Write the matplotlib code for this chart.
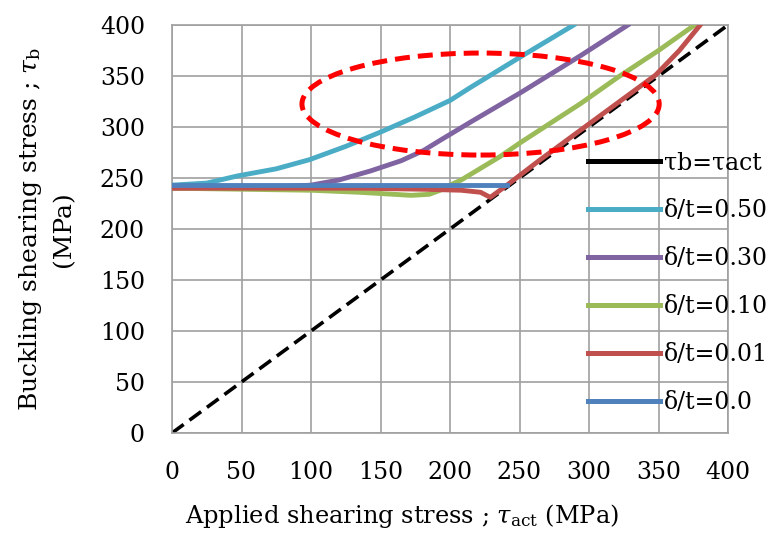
import matplotlib
matplotlib.use("Agg")
import matplotlib.pyplot as plt
from matplotlib.lines import Line2D
from matplotlib.patches import Ellipse

plt.rcParams['font.family'] = ['DejaVu Serif']
plt.rcParams['mathtext.fontset'] = 'dejavuserif'

# diagonal tau_b = tau_act
diag_x = [0, 400]
diag_y = [0, 400]

# delta/t = 0.50
x_050 = [0, 25, 47, 75, 99, 125, 150, 175, 200, 215, 251, 289]
y_050 = [243, 245, 252, 259, 268, 281, 295, 310, 326, 339, 369, 400]

# delta/t = 0.30
x_030 = [0, 60, 100, 120, 143, 165, 181, 193, 215, 250, 294, 328]
y_030 = [240, 240, 243, 248, 257, 267, 277, 287, 305, 333, 370, 400]

# delta/t = 0.10
x_010 = [0, 50, 100, 135, 172, 185, 193, 200, 208, 236, 251, 294, 321, 350, 376]
y_010 = [240, 239, 238, 236, 233, 234, 238, 243, 248, 271, 285, 323, 349, 375, 400]

# delta/t = 0.01
x_001 = [0, 50, 100, 135, 180, 208, 222, 229, 241, 265, 294, 323, 348, 365, 380]
y_001 = [240, 240, 240, 240, 239, 238, 236, 231, 243, 268, 297, 326, 351, 375, 400]

# delta/t = 0.0
x_000 = [0, 241]
y_000 = [243, 243]

labels = ['τb=τact', 'δ/t=0.50', 'δ/t=0.30', 'δ/t=0.10', 'δ/t=0.01', 'δ/t=0.0']
colors = ['black', '#4BACC6', '#8064A2', '#9BBB59', '#C0504D', '#4F81BD']

# highlighted region (ellipse)
ell_center = (222, 322.5)
ell_width = 257
ell_height = 100

fig = plt.figure(figsize=(7.72, 5.33), dpi=100)
ax = fig.add_axes([172/772, 1-433/533, 556/772, 408/533])

ax.plot(diag_x, diag_y, color='black', lw=2.6, linestyle=(0, (4, 2)), zorder=2)
ax.plot(x_050, y_050, color=colors[1], lw=3.5, zorder=3)
ax.plot(x_030, y_030, color=colors[2], lw=3.5, zorder=3)
ax.plot(x_010, y_010, color=colors[3], lw=3.5, zorder=3)
ax.plot(x_001, y_001, color=colors[4], lw=3.5, zorder=4)
ax.plot(x_000, y_000, color=colors[5], lw=3.5, zorder=5)

ax.add_patch(Ellipse(ell_center, ell_width, ell_height, fill=False,
                     edgecolor='red', lw=3.6, linestyle=(0, (3, 1.6)), zorder=6))

ax.set_xlim(0, 400)
ax.set_ylim(0, 400)
ax.set_xticks(range(0, 401, 50))
ax.set_yticks(range(0, 401, 50))
ax.grid(True, color='#A0A0A0', lw=1.2)
ax.set_axisbelow(True)
for s in ax.spines.values():
    s.set_color('#A0A0A0')
    s.set_linewidth(1.2)
ax.tick_params(axis='both', length=0, labelsize=17)
ax.tick_params(axis='x', pad=20)
ax.tick_params(axis='y', pad=19.5)

ax.set_xlabel('Applied shearing stress ; $\\tau_{\\rm act}$ (MPa)', fontsize=17.4)
ax.xaxis.set_label_coords((402-172)/556, (433-502)/408)
ax.set_ylabel('Buckling shearing stress ; $\\tau_{\\rm b}$\n(MPa)', fontsize=18,
              linespacing=1.42, multialignment='center')
ax.yaxis.set_label_coords((75-172)/556, (433-229)/408)

handles = [Line2D([], [], color=c, lw=3.6) for c in colors]
fig.legend(handles, labels, loc='upper left', bbox_to_anchor=(588/772, 1-151/533),
           frameon=False, fontsize=17, handlelength=3.05, handletextpad=0.17,
           labelspacing=1.06, borderpad=0, borderaxespad=0)

fig.savefig('out.png', dpi=100)
